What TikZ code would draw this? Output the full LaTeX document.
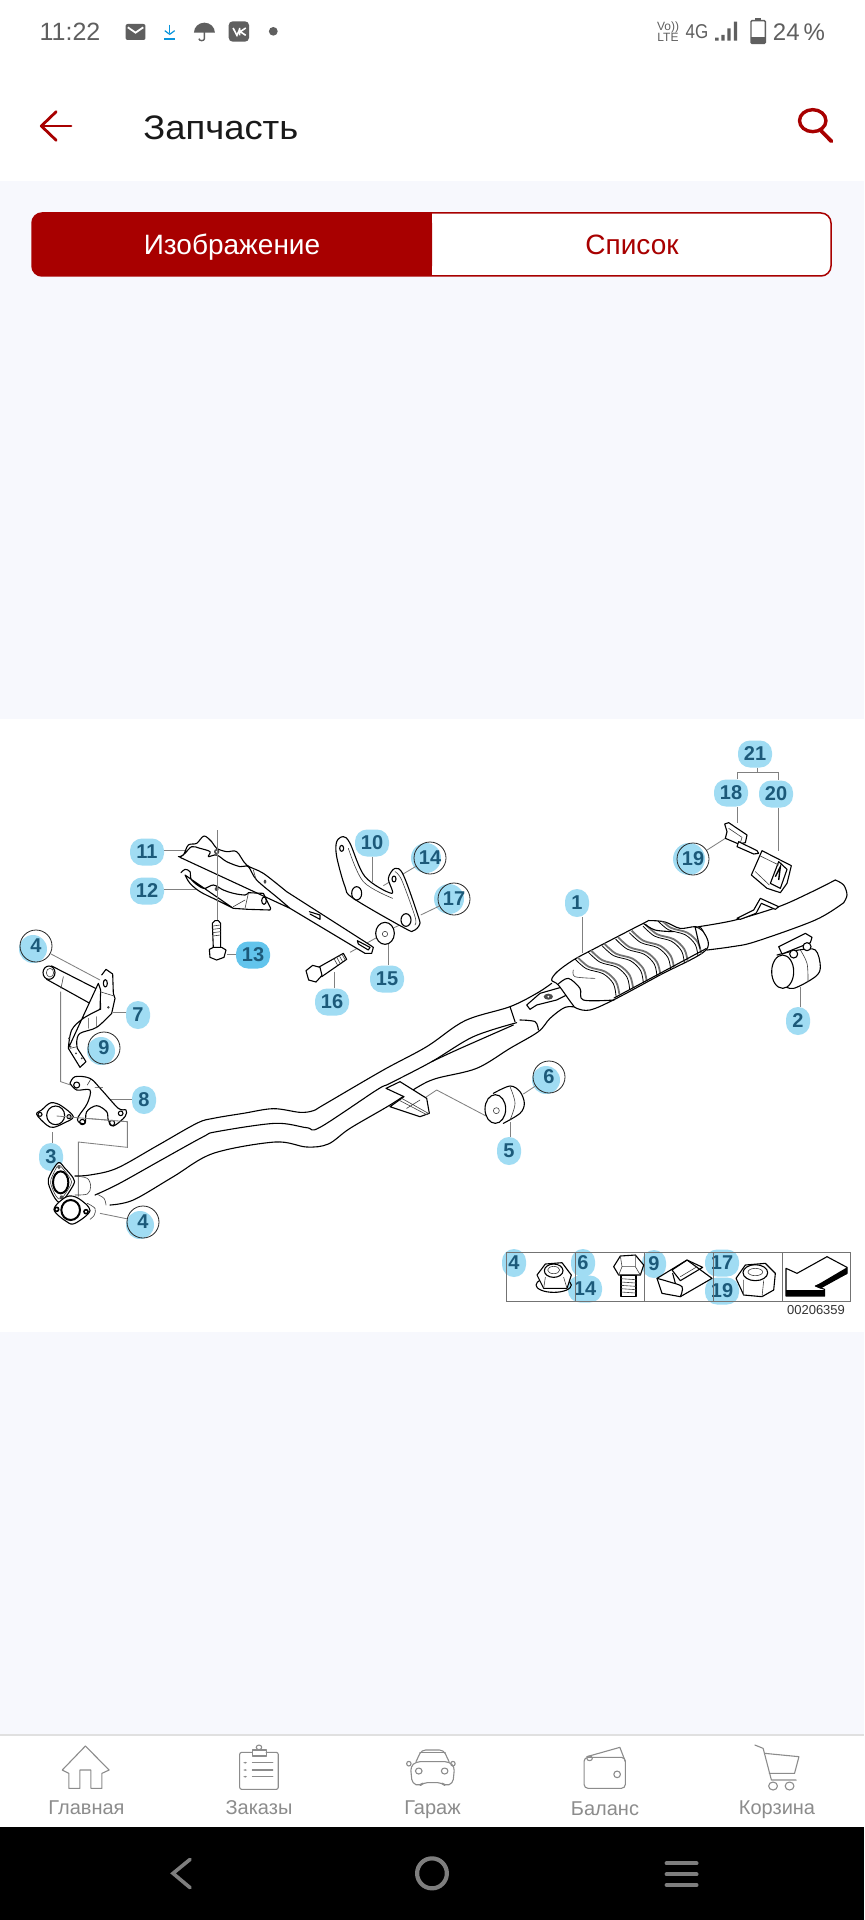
\documentclass[tikz,border=0pt]{standalone}
\usepackage{fontspec}
\usepackage{graphicx}
\setmainfont{Liberation Sans}
\definecolor{pagebg}{HTML}{F7F8FD}
\definecolor{brand}{HTML}{A80000}
\definecolor{blobc}{HTML}{A0DCF3}
\definecolor{blobd}{HTML}{62C4EC}
\definecolor{labc}{HTML}{1C5A7A}
\definecolor{statusc}{HTML}{5F5F5F}
\definecolor{navc}{HTML}{8C8C8C}
\newcommand\cv[1]{plot[smooth,tension=.55] coordinates {#1}}
\newcommand\ccv[1]{plot[smooth cycle,tension=.55] coordinates {#1}}
\tikzset{
  z1/.style={x=.2755pt,y=-.16667pt},
  z6/.style={shift={(0,1720)},x=.2755pt,y=-.16667pt},
  z2/.style={shift={(0,720)},x=.16667pt,y=-.16667pt},
  z3/.style={shift={(432,720)},x=.16667pt,y=-.16667pt},
  z4/.style={shift={(0,1040)},x=.16667pt,y=-.16667pt},
  z5/.style={shift={(432,1040)},x=.16667pt,y=-.16667pt},
  z7/.style={shift={(280,950)},x=.16667pt,y=-.16667pt},
  z8/.style={shift={(0,950)},x=.16667pt,y=-.16667pt},
  z9/.style={shift={(540,920)},x=.16667pt,y=-.16667pt},
  z10/.style={shift={(20,1090)},x=.16667pt,y=-.16667pt},
  part/.style={draw=black,line width=.55pt,line join=round,line cap=round},
  thin part/.style={draw=black!75,line width=.3pt,line join=round,line cap=round},
  white part/.style={part,fill=white},
  leader/.style={draw=black!50,line width=.42pt},
  lab/.style={rectangle,rounded corners=6pt,fill=blobc,inner sep=0pt,text=labc,font=\fontsize{10}{11}\selectfont\bfseries},
  ring/.style={circle,draw=black!85,line width=.4pt,minimum size=16pt,inner sep=0pt,text=labc,font=\fontsize{10}{11}\selectfont\bfseries},
  s/.style={minimum width=12pt,minimum height=14pt},
  w/.style={minimum width=17pt,minimum height=13.5pt},
  status/.style={text=statusc,inner sep=0pt},
  navlabel/.style={text=navc,inner sep=0pt,anchor=base,font=\fontsize{10}{12}\selectfont},
  navicon/.style={draw=navc,line width=.55pt,line join=round,line cap=round},
  navbtn/.style={draw=navc!90!black,line cap=round,line join=round},
}
\begin{document}
\begin{tikzpicture}[x=.5pt,y=-.5pt]
\useasboundingbox (0,0) rectangle (864,1920);
% page bands
\fill[white] (0,0) rectangle (864,181);
\fill[pagebg] (0,181) rectangle (864,719);
\fill[white] (0,719) rectangle (864,1332);
\fill[pagebg] (0,1332) rectangle (864,1734);
\fill[black!12] (0,1734) rectangle (864,1736);
\fill[white] (0,1736) rectangle (864,1827);
\fill[black] (0,1827) rectangle (864,1920);
% status bar
\node[status,font=\fontsize{12.5}{14}\selectfont] (clock) at (70,32) {11:22};
\begin{scope}[z1]
  \fill[statusc,rounded corners=1pt] (228,72) rectangle (264,120);
  \draw[white,line width=.9pt] (232,82) -- (246,98) -- (260,82);
  \draw[cyan!80!blue,line width=.6pt] (308,74) -- (308,100);
  \draw[cyan!80!blue,line width=.6pt] (299,92) -- (308,103) -- (317,92);
  \draw[cyan!80!blue,line width=.6pt] (298,117) -- (318,117);
  \fill[statusc] (352,98) arc[start angle=180,end angle=360,x radius=19,y radius=30] -- cycle;
  \draw[statusc,line width=.7pt] (371,90) -- (371,116) arc[start angle=0,end angle=180,x radius=5,y radius=6];
  \fill[statusc,rounded corners=2pt] (415,64) rectangle (452,125);
  \draw[white,line width=.8pt] (423,84) -- (430,106) -- (435,88);
  \draw[white,line width=.8pt] (435,84) -- (435,106) (446,84) -- (436,95) -- (446,106);
  \fill[statusc] (496,94) circle[x radius=8,y radius=13];
\end{scope}
\node[status,font=\fontsize{6}{6}\selectfont] (volte) at (668,27) {Vo))};
\node[status,font=\fontsize{6}{6}\selectfont] (lte) at (668,37) {LTE};
\node[status,font=\fontsize{10}{11}\selectfont] (net) at (697,32) {\scalebox{.85}[1]{4G}};
\begin{scope}[z1]
  \fill[statusc] (1298,113) rectangle (1304,122) (1309,105) rectangle (1315,122) (1320,85) rectangle (1326,122) (1332,65) rectangle (1338,122);
  \draw[statusc,line width=.7pt,rounded corners=.5pt] (1363,62) rectangle (1389,130);
  \fill[statusc] (1370,55) rectangle (1382,62);
  \fill[statusc] (1363,112) rectangle (1389,130);
\end{scope}
\node[status,font=\fontsize{12}{13}\selectfont] (batt) at (799,32) {24\,\%};
% app bar
\begin{scope}[z1]
  \draw[brand,line width=1.4pt,line cap=round,line join=round] (129,378) -- (75,378);
  \draw[brand,line width=1.4pt,line cap=round,line join=round] (102,335) -- (75,378) -- (102,421);
  \draw[brand,line width=1.7pt] (1475,362) circle[x radius=24,y radius=33];
  \draw[brand,line width=1.9pt,line cap=round] (1490,392) -- (1509,424);
\end{scope}
\node[anchor=base west,inner sep=0pt,text=black!90,font=\fontsize{17}{19}\selectfont] (title) at (143,139.5) {\scalebox{1.07}[1]{Запчасть}};
% segmented button
\path[fill=white,draw=brand,line width=.75pt,rounded corners=5pt] (32,213) rectangle (831,276);
\fill[brand,rounded corners=5pt] (432,213) -- (32,213) -- (32,276) -- (432,276) -- cycle;
\fill[brand] (400,213) rectangle (432,276);
\node[anchor=base,text=white,inner sep=0pt,font=\fontsize{14}{15}\selectfont] (tabA) at (232,255) {Изображение};
\node[anchor=base,text=brand,inner sep=0pt,font=\fontsize{14}{15}\selectfont] (tabB) at (632,255) {Список};

% ===== label nodes =====
\fill[blobc] (33,949) circle[radius=14];
\node[ring] (a4) at (36,946) {4};
\fill[blobc] (101,1051) circle[radius=14];
\node[ring] (a9) at (104,1048) {9};
\fill[blobc] (140,1225) circle[radius=14];
\node[ring] (b4) at (143,1222) {4};
\fill[blobc] (546,1080) circle[radius=14];
\node[ring] (a6) at (549,1077) {6};
\fill[blobc] (689,859) circle[radius=16];
\node[ring] (a19) at (693,859) {19};
\fill[blobc] (449,899) circle[radius=15];
\node[ring] (a17) at (454,899) {17};
\fill[blobc] (426,858) circle[radius=15];
\node[ring] (a14) at (430,858) {14};
\node[lab,w] (a11) at (147,852) {11};
\node[lab,w] (a12) at (147,891) {12};
\node[lab,w,fill=blobd] (a13) at (253,955) {13};
\node[lab,w] (a10) at (372,843) {10};
\node[lab,s] (a7) at (138,1015) {7};
\node[lab,w] (a15) at (387,979) {15};
\node[lab,w] (a16) at (332,1002) {16};
\node[lab,s] (a8) at (144,1100) {8};
\node[lab,s] (a3) at (51,1157) {3};
\node[lab,w] (a21) at (755,754) {21};
\node[lab,w] (a18) at (731,793) {18};
\node[lab,w] (a20) at (776,794) {20};
\node[lab,s] (a1) at (577,903) {1};
\node[lab,s] (a2) at (798,1021) {2};
\node[lab,s] (a5) at (509,1151) {5};
\node[lab,s] (i4) at (514,1263) {4};
\node[lab,s] (i6) at (583,1263) {6};
\node[lab,w] (i14) at (585,1289) {14};
\node[lab,s] (i9) at (654,1264) {9};
\node[lab,w] (i17) at (722,1263) {17};
\node[lab,w] (i19) at (722,1291) {19};

% ===== free ends of the leaders =====
\begin{scope}[z2]
  \coordinate (p4) at (300,780);
  \coordinate (p7) at (340,878);
  \coordinate (p11) at (555,392);
  \coordinate (p12) at (595,508);
  \coordinate (p13) at (680,703);
  \coordinate (p10) at (1117,485);
  \coordinate (p14) at (1150,497);
  \coordinate (p15) at (1165,668);
  \coordinate (p16) at (1002,755);
  \coordinate (p17) at (1262,585);
  \coordinate (ax1) at (652,330);
  \coordinate (ax2) at (652,602);
  \coordinate (ax3) at (1135,650);
  \coordinate (ax4) at (1050,697);
  \coordinate (ax5) at (1178,625);
  \coordinate (ax6) at (1210,610);
\end{scope}
\begin{scope}[z3]
  \coordinate (p1) at (450,700);
  \coordinate (p2) at (1105,800);
  \coordinate (p18) at (915,310);
  \coordinate (p19) at (880,355);
  \coordinate (p20) at (1040,392);
  \coordinate (j21) at (977,158);
  \coordinate (j18) at (915,158);
  \coordinate (j20) at (1040,158);
\end{scope}
\begin{scope}[z4]
  \coordinate (p3) at (158,275);
  \coordinate (p4b) at (300,520);
  \coordinate (p8) at (330,177);
  \coordinate (g1) at (170,228);
  \coordinate (g2) at (382,245);
  \coordinate (g3) at (382,322);
  \coordinate (g4) at (235,306);
  \coordinate (g5) at (235,470);
\end{scope}
\begin{scope}[z7]
  \coordinate (p6) at (730,432);
  \coordinate (p5) at (690,515);
  \coordinate (r1) at (425,450);
  \coordinate (r2) at (470,420);
  \coordinate (r3) at (622,500);
\end{scope}
\begin{scope}[z8]
  \coordinate (t1) at (182,125);
  \coordinate (t2) at (182,395);
  \coordinate (t3) at (212,405);
\end{scope}

% ===== leaders =====
\draw[leader] (a4) -- (p4);
\draw[leader] (a7.west |- p7) -- (p7);
\draw[leader] (a11.east |- p11) -- (p11);
\draw[leader] (a12.east |- p12) -- (p12);
\draw[leader] (a13.west |- p13) -- (p13);
\draw[leader] (a10.south -| p10) -- (p10);
\draw[leader] (a14) -- (p14);
\draw[leader] (a15.north -| p15) -- (p15);
\draw[leader] (a16.north -| p16) -- (p16);
\draw[leader] (a17) -- (p17);
\draw[leader] (a1.south -| p1) -- (p1);
\draw[leader] (a2.north -| p2) -- (p2);
\draw[leader] (a18.south -| p18) -- (p18);
\draw[leader] (a19) -- (p19);
\draw[leader] (a20.south -| p20) -- (p20);
\draw[leader] (a21.south -| j21) -- (j21);
\draw[leader] (a18.north -| j18) -- (j18) -- (j20) -- (a20.north -| j20);
\draw[leader] (a3.north -| p3) -- (p3);
\draw[leader] (b4) -- (p4b);
\draw[leader] (a8.west |- p8) -- (p8);
\draw[leader] (a6) -- (p6);
\draw[leader] (a5.north -| p5) -- (p5);
\draw[leader] (ax1) -- (ax2);
\draw[leader] (ax3) -- (ax4);
\draw[leader] (ax5) -- (ax6);
\draw[leader] (g1) -- (g2) -- (g3) -- (g4) -- (g5);
\draw[leader] (r1) -- (r2) -- (r3);
\draw[leader] (t1) -- (t2) -- (t3);

% ===== exhaust pipes =====
\begin{scope}[z4]
  \draw[part] \cv{(225,408)(270,405)(350,385)(470,318)(590,250)(640,235)(730,220)(820,206)(900,217)(940,212)(970,195)(1150,90)(1280,20)(1395,-58)(1530,-100)(1610,-140)(1655,-170)};
  \draw[part] \cv{(285,465)(355,432)(480,362)(610,290)(650,275)(825,250)(920,263)(960,262)(1130,150)(1170,130)(1295,65)(1420,-10)(1550,-52)};
  \draw[part] \cv{(1295,65)(1370,30)(1540,-45)};
  \draw[part] \cv{(330,495)(400,480)(520,410)(640,340)(825,306)(920,321)(985,312)(1050,265)(1170,195)(1255,140)(1310,115)(1430,85)(1530,25)(1615,-25)(1650,-65)(1695,-98)(1730,-98)};
  \draw[part] (1530,-100) -- (1545,-55);
  \draw[part] \cv{(1560,-60)(1605,-55)(1615,-30)};
  \draw[thin part] \cv{(225,408)(262,415)(272,440)(262,462)(225,465)};
  \draw[thin part] \cv{(290,462)(312,475)(318,495)};
  \draw[thin part] \cv{(262,490)(285,505)(283,525)(270,538)};
\end{scope}
% bracket on the pipe
\begin{scope}[z7]
  \draw[white part] (318,415) -- (360,395) -- (440,445) -- (448,490) -- (420,500) -- (330,470) -- (372,440) -- cycle;
  \draw[thin part] (365,445) -- (445,490) (360,452) -- (440,494) (380,475) -- (420,450);
  \draw[white part] (740,165) -- (780,130) -- (850,110) -- (880,125) -- (830,150) -- (770,165) -- (750,178) -- cycle;
  \fill[black!70] (805,140) circle[x radius=14,y radius=9];
  \fill[white] (805,140) circle[radius=3];
\end{scope}
% catalyst
\begin{scope}[z9]
  \draw[white part] \ccv{(35,180)(52,155)(100,120)(165,85)(310,10)(330,2)(375,6)(420,25)(465,20)(487,30)(498,90)(360,165)(220,240)(150,270)(110,265)(95,250)(55,195)};
  \begin{scope}
    \clip \ccv{(35,180)(52,155)(100,120)(165,85)(310,10)(330,2)(375,6)(420,25)(465,20)(487,30)(498,90)(360,165)(220,240)(150,270)(110,265)(95,250)(55,195)};
    \foreach \i in {0,1,2,3,4,5,6,7} {
      \begin{scope}[shift={(\i*41,-\i*19.5)}]
        \draw[line width=.9pt,black!55] \cv{(111,110)(146,140)(196,155)(228,185)(238,222)};
        \draw[line width=.4pt,black] \cv{(104,116)(139,146)(189,161)(220,191)(228,228)};
      \end{scope}
    }
  \end{scope}
  \draw[thin part] \cv{(100,150)(105,170)(165,175)};
  \draw[part] (498,86) -- (222,234);
  \draw[part] \cv{(55,192)(85,175)(120,205)(130,240)(222,240)};
  \draw[part] \cv{(310,10)(345,30)(400,35)};
  \draw[part] (465,20) -- (480,85);
\end{scope}
% tail pipe
\begin{scope}[z3]
  \draw[part] \cv{(800,620)(910,600)(1040,560)(1130,520)(1210,480)};
  \draw[part] \cv{(1210,480)(1235,495)(1245,525)(1235,548)};
  \draw[part] \cv{(825,690)(900,680)(970,665)(1150,600)(1235,548)};
  \draw[white part] (915,595) -- (965,570) -- (985,535) -- (1040,560) -- (1030,568) -- (988,550) -- (972,580) -- (925,598) -- cycle;
  % clamp 2
  \draw[white part] \cv{(1035,705)(1100,690)(1150,690)(1165,740)(1150,770)(1085,805)(1050,795)};
  \draw[white part] (1052,755) circle[x radius=33,y radius=50];
  \draw[thin part] \cv{(1105,690)(1125,730)(1128,785)};
  \draw[white part] (1040,680) -- (1120,640) -- (1140,652) -- (1135,668) -- (1050,702) -- cycle;
  \draw[white part] (1085,702) circle[radius=12];
  \draw[white part] (1125,680) circle[radius=12];
  % clip 18
  \draw[white part] (878,312) -- (890,308) -- (945,345) -- (940,368) -- (920,372) -- (880,355) -- (885,335) -- cycle;
  \draw[thin part] (890,325) -- (930,352) -- (925,368);
  \draw[white part] (920,365) -- (975,392) -- (980,400) -- (965,402) -- (915,380) -- cycle;
  % hanger 20
  \draw[white part] (990,392) -- (1078,437) -- (1065,490) -- (1045,518) -- (1005,505) -- (958,465) -- cycle;
  \draw[part] (1040,425) -- (1015,490) -- (1045,505) -- (1065,448) -- cycle;
  \draw[line width=.7pt] (1030,470) -- (1045,440) -- (1040,480);
  \draw[thin part] (985,408) -- (1040,435) (970,455) -- (1012,495);
\end{scope}
% rubber mount 5/6
\begin{scope}[z7]
  \draw[white part] \cv{(640,430)(690,408)(720,425)(733,460)(720,490)(670,520)};
  \draw[thin part] \cv{(690,410)(705,460)(690,510)};
  \draw[white part] (646,477) circle[x radius=31,y radius=43];
  \draw[thin part] (649,482) circle[radius=9];
\end{scope}
% straps, brackets, bolts
\begin{scope}[z2]
  \draw[white part] \cv{(543,458)(555,448)(570,455)(575,480)(610,505)(640,495)(670,510)(700,520)(735,525)(745,518)} -- (790,520) -- (812,565) -- (810,570) -- (745,568) -- (700,565) \cv{(700,565)(650,540)(600,515)(570,490)(555,465)} -- cycle;
  \draw[part] (792,542) circle[x radius=7,y radius=11];
  \fill[black!70] (650,507) circle[radius=6];
  \draw[thin part] (700,560) -- (735,540) (745,520) -- (735,565);
  \draw[white part] \cv{(535,410)(550,405)(565,375)(590,370)(612,348)(635,365)(650,385)(680,395)(710,395)(740,435)(790,460)(860,515)} -- (1110,675) -- (1120,682) -- (1115,700) -- (1095,700) -- (870,565) \cv{(870,565)(835,535)(770,480)(745,440)(720,440)(680,425)(650,405)(625,410)(630,395)(600,385)(575,380)(555,400)(540,412)} -- cycle;
  \draw[part] (1072,662) -- (1110,682) -- (1105,690) -- (1075,672) -- cycle;
  \draw[part] (928,575) -- (960,585) -- (960,598) -- (930,582);
  \fill[black!70] (795,485) circle[x radius=4,y radius=6];
  \fill[black!70] (650,395) circle[radius=8];
  \fill[white] (650,395) circle[radius=3];
  \draw[thin part] (760,450) -- (768,478);
  \draw[leader] (ax1) -- (ax2);
  % bolt 13
  \draw[white part] (637,610) -- (645,602) -- (655,602) -- (662,610) -- (662,685) -- (640,685) -- cycle;
  \foreach \t in {618,628,638,648} \draw[thin part] (638,\t) -- (661,\t-3);
  \draw[white part] (628,688) -- (640,682) -- (665,682) -- (678,690) -- (672,712) -- (650,720) -- (630,712) -- cycle;
  % bracket 10
  \draw[white part] \ccv{(1010,365)(1030,350)(1050,370)(1095,470)(1175,520)(1165,475)(1185,445)(1210,465)(1255,590)(1258,615)(1240,632)(1215,625)(1060,535)(1035,500)(1010,410)};
  \draw[thin part] \cv{(1045,385)(1090,485)(1178,535)};
  \draw[thin part] \cv{(1185,455)(1205,480)(1245,590)(1245,615)};
  \draw[part] (1025,385) circle[x radius=6,y radius=9];
  \draw[part] (1070,520) circle[x radius=15,y radius=20];
  \draw[part] (1182,477) circle[x radius=6,y radius=9];
  \draw[part] (1218,600) circle[x radius=15,y radius=19];
  % washer 15
  \draw[white part] (1155,640) circle[x radius=28,y radius=33];
  \draw[thin part] (1155,642) circle[radius=8];
  % bolt 16
  \draw[white part] (950,745) -- (1030,700) -- (1040,718) -- (965,770) -- cycle;
  \foreach \t in {0,8,16,24} \draw[thin part] (1002+\t,716-\t*.55) -- (1012+\t,734-\t*.55);
  \draw[white part] (918,752) -- (938,736) -- (960,742) -- (966,766) -- (948,786) -- (926,780) -- cycle;
\end{scope}
% bracket 7 and stub tube
\begin{scope}[z8]
  \draw[white part] (155,48) -- (300,122) -- (302,178) -- (140,88) -- cycle;
  \draw[white part] (147,68) circle[x radius=18,y radius=20];
  \draw[thin part] (150,68) circle[x radius=11,y radius=13];
  \draw[thin part] (190,80) -- (183,115);
  \draw[white part] (305,75) -- (318,58) -- (338,72) -- (340,130) -- (345,145) -- (335,190) \cv{(335,190)(290,232)(240,250)(230,275)(232,295)} -- (258,335) -- (240,352) -- (205,295) \cv{(205,295)(215,240)(250,205)(300,178)} -- (302,120) -- (295,100) -- cycle;
  \draw[part] (316,100) circle[x radius=6,y radius=11];
  \fill[black!75] (325,172) circle[radius=4];
  \draw[thin part] (300,125) -- (342,138) (265,205) -- (265,235) (290,200) -- (290,232) (210,295) -- (232,290);
  \foreach \a/\b in {207/265,212/290,228/310,245/325} \fill[black!75] (\a,\b) circle[radius=3];
\end{scope}
% gasket 3 and bracket 8
\begin{scope}[z10]
  \draw[white part] \ccv{(50,73)(65,60)(85,42)(100,38)(125,48)(160,80)(130,100)(100,112)(80,105)};
  \draw[part] (107,76) circle[x radius=27,y radius=28];
  \draw[part] (60,73) circle[radius=6];
  \draw[part] (147,80) circle[radius=6];
\end{scope}
\begin{scope}[z4]
  \draw[white part] \cv{(210,130)(225,110)(270,115)(305,150)(355,205)(378,210)(375,230)(340,258)(325,240)(320,215)(290,197)(260,215)(255,250)(235,245)(235,230)(262,190)(270,150)(230,150)(210,130)};
  \draw[part] (230,135) circle[radius=9];
  \draw[part] (247,246) circle[radius=8];
  \draw[part] (336,249) circle[radius=8];
  \draw[part] (362,220) circle[radius=7];
  \draw[thin part] (262,135) -- (272,118) (285,142) -- (308,142);
  \draw[leader] (g1) -- (g2);
\end{scope}
% flanges
\begin{scope}[z10]
  \draw[white part] \ccv{(115,218)(90,255)(85,280)(105,325)(125,335)(160,285)(160,265)(135,235)};
  \draw[line width=1pt] (122,277) circle[x radius=23,y radius=33];
  \draw[thin part] \ccv{(115,226)(97,258)(92,280)(108,318)(124,326)(152,285)(152,268)(132,240)};
  \fill[black!70] (117,232) circle[radius=5];
  \fill[black!70] (125,322) circle[radius=6];
  \draw[white part] \ccv{(102,358)(140,320)(175,325)(210,362)(165,400)(140,395)};
  \draw[line width=1pt] (152,360) circle[x radius=28,y radius=30];
  \draw[line width=.8pt] (110,358) circle[radius=6];
  \draw[line width=.8pt] (198,365) circle[radius=6];
\end{scope}
% ===== inset =====
\begin{scope}[z5]
  \draw[black!55,line width=.45pt] (224,636) rectangle (1256,783);
  \draw[black!55,line width=.45pt] (430,636) -- (430,783) (637,636) -- (637,783) (845,636) -- (845,783) (1050,636) -- (1050,783);
  % flange nut
  \draw[part] (365,735) ellipse[x radius=53,y radius=22];
  \draw[white part] (315,705) -- (340,672) -- (390,668) -- (418,705) -- (405,745) -- (335,745) -- cycle;
  \draw[part] (365,692) ellipse[x radius=28,y radius=20];
  \draw[thin part] (365,690) ellipse[x radius=18,y radius=11];
  \draw[thin part] (340,712) -- (335,745) (395,712) -- (405,745);
  % bolt
  \draw[white part] (567,705) -- (567,770) -- (612,770) -- (612,705) -- cycle;
  \foreach \t in {716,726,736,746,756} \draw[thin part] (567,\t) -- (612,\t+3);
  \draw[white part] (545,680) -- (565,648) -- (610,645) -- (635,675) -- (625,705) -- (560,705) -- cycle;
  \draw[thin part] (565,648) -- (570,680) -- (610,680) -- (610,645) (570,680) -- (560,705) (610,680) -- (625,705);
  % clip
  \draw[white part] (675,715) -- (765,660) -- (840,715) -- (745,770) -- (690,760) -- cycle;
  \draw[part] (720,690) -- (765,660) -- (812,682) -- (745,722) -- cycle;
  \draw[thin part] (745,710) -- (795,680);
  \draw[part] \cv{(675,715)(710,725)(750,740)(745,770)};
  \draw[part] (722,700) -- (730,730);
  % hex nut
  \draw[white part] (912,715) -- (940,675) -- (1000,670) -- (1030,700) -- (1025,750) -- (990,770) -- (935,765) -- cycle;
  \draw[part] (970,698) ellipse[x radius=37,y radius=24];
  \draw[thin part] (970,696) ellipse[x radius=22,y radius=11];
  \draw[thin part] (935,720) -- (935,765) (995,722) -- (990,770);
  % arrow
  \draw[white part] (1062,685) -- (1095,700) -- (1185,650) -- (1245,682) -- (1245,700) -- (1150,738) -- (1178,748) -- (1178,768) -- (1062,768) -- cycle;
  \fill[black] (1062,750) rectangle (1178,768);
  \fill[black] (1150,738) -- (1245,682) -- (1245,702) -- (1165,746) -- cycle;
\end{scope}
\node[inner sep=0pt,text=black!80,font=\fontsize{6.5}{8}\selectfont] (code) at (816,1310) {00206359};
% ===== bottom nav =====
\begin{scope}[z6]
  \draw[navicon] (113,150) -- (155,78) -- (198,150) -- (185,160) -- (185,205) -- (165,205) -- (165,150) -- (145,150) -- (145,205) -- (125,205) -- (125,160) -- cycle;
  \draw[navicon,rounded corners=1pt] (458,97) -- (435,97) -- (435,208) -- (505,208) -- (505,97) -- (483,97);
  \draw[navicon] (458,90) rectangle (483,108);
  \draw[navicon] (470,82) circle[x radius=5,y radius=7];
  \foreach \t in {128,150,170} {
    \fill[navc] (445,\t) circle[x radius=3.5,y radius=2.5];
    \draw[navicon] (458,\t) -- (495,\t);
  }
  \draw[navicon,rounded corners=2pt] (755,125) -- (765,90) -- (805,90) -- (815,125);
  \draw[navicon] (762,98) -- (808,98);
  \draw[navicon,rounded corners=2pt] (755,125) -- (745,140) -- (748,190) -- (762,198) -- (768,188) -- (802,188) -- (808,198) -- (822,190) -- (825,140) -- (815,125) -- cycle;
  \draw[navicon] (760,153) circle[x radius=6,y radius=9];
  \draw[navicon] (807,153) circle[x radius=6,y radius=9];
  \draw[navicon] (742,131) circle[x radius=4,y radius=7];
  \draw[navicon] (822,131) circle[x radius=4,y radius=7];
  \draw[navicon,rounded corners=2pt] (1060,112) rectangle (1135,205);
  \draw[navicon] (1065,110) -- (1125,82) -- (1135,125);
  \draw[navicon] (1070,115) circle[x radius=5,y radius=7];
  \draw[navicon] (1120,163) circle[x radius=6,y radius=10];
  \draw[navicon] (1370,75) -- (1385,85) -- (1400,180) -- (1445,180);
  \draw[navicon] (1388,100) -- (1450,110) -- (1442,160) -- (1396,160);
  \draw[navicon] (1403,198) circle[x radius=8,y radius=12];
  \draw[navicon] (1433,198) circle[x radius=8,y radius=12];
  % system buttons
  \draw[navbtn,line width=1.8pt,line join=miter] (345,418) -- (314,460) -- (345,503);
  \draw[navbtn,line width=2.1pt] (784,460) circle[x radius=27,y radius=45];
  \draw[navbtn,line width=2.1pt,line cap=round] (1210,430) -- (1264,430) (1210,463) -- (1264,463) (1210,495) -- (1264,495);
\end{scope}
\node[navlabel] (n1) at (86.5,1814) {Главная};
\node[navlabel] (n2) at (259,1814) {Заказы};
\node[navlabel] (n3) at (432.5,1814) {Гараж};
\node[navlabel] (n4) at (605,1815) {Баланс};
\node[navlabel] (n5) at (777,1814) {Корзина};
\end{tikzpicture}
\end{document}
